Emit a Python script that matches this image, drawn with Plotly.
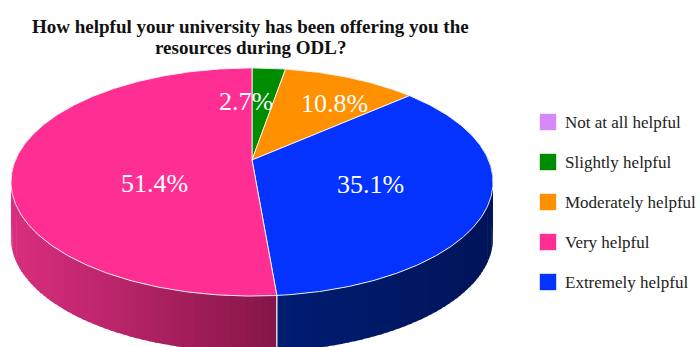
import math
import plotly.graph_objects as go

# Survey answers (37 respondents)
categories = ["Not at all helpful", "Slightly helpful", "Moderately helpful",
              "Very helpful", "Extremely helpful"]
counts = [0, 1, 4, 19, 13]
colors = ["#d68af8", "#008c00", "#ff9000", "#ff2e92", "#0433ff"]
# clockwise order of the slices, starting at 12 o'clock
slice_order = ["Not at all helpful", "Slightly helpful", "Moderately helpful",
               "Extremely helpful", "Very helpful"]

title_lines = ["How helpful your university has been offering you the",
               "resources during ODL?"]

# ---- pie geometry (pixel space, y grows downward) ----
W, H = 700, 347
CX, CY = 252, 160          # centre of the top face
RX, RY = 236.5, 109.8      # radii before perspective
K = 0.193                  # perspective strength (far edge shrinks)
DEPTH = 56                 # thickness of the pie wall
FONT = "Liberation Serif"

# shading of the wall: colour at left end -> colour at right end
side_ramps = {
    "Very helpful": ((218, 46, 128), (132, 22, 70)),
    "Extremely helpful": ((0, 30, 118), (0, 20, 88)),
    "Moderately helpful": ((200, 110, 0), (150, 80, 0)),
    "Slightly helpful": ((0, 110, 0), (0, 80, 0)),
    "Not at all helpful": ((170, 110, 200), (130, 80, 160)),
}
# label anchor points on the top face
label_pos = {
    "Slightly helpful": (246, 101),
    "Moderately helpful": (334, 103),
    "Very helpful": (154, 183),
    "Extremely helpful": (370, 184),
}


def proj(theta, r=1.0, dy=0.0):
    t = math.radians(theta)
    u, v = r * math.sin(t), r * math.cos(t)
    s = 1 + K * v
    return CX + RX * u / s, CY - RY * v / s + dy


def arc(t0, t1, dy=0.0):
    n = max(2, int(abs(t1 - t0) / 0.5) + 1)
    pts = [proj(t0 + (t1 - t0) * i / (n - 1), 1.0, dy) for i in range(n)]
    return pts


total = sum(counts)
col = dict(zip(categories, colors))
cnt = dict(zip(categories, counts))

spans = []
acc = 0.0
for name in slice_order:
    sweep = 360.0 * cnt[name] / total
    spans.append((name, acc, acc + sweep))
    acc += sweep

fig = go.Figure()

# ---- wall (only the front half is ever visible) ----
x_left, x_right = CX - RX * 1.02, CX + RX * 1.02
for name, t0, t1 in spans:
    if t1 - t0 <= 0:
        continue
    c0, c1 = side_ramps[name]
    n = max(1, int((t1 - t0) / 1.5) + 1)
    for i in range(n):
        a = t0 + (t1 - t0) * i / n
        b = t0 + (t1 - t0) * (i + 1) / n
        if math.cos(math.radians((a + b) / 2)) > 0.1:
            continue
        # overlap each strip slightly with the next one to hide seams
        b_ext = min(t1, b + 0.6)
        top = arc(a, b_ext)
        bot = arc(a, b_ext, DEPTH)[::-1]
        poly = top + bot + [top[0]]
        xm = sum(p[0] for p in top) / len(top)
        if name == "Extremely helpful":
            f = (xm - CX) / (x_right - CX)
        elif name == "Very helpful":
            f = (xm - x_left) / (CX + 25 - x_left)
        else:
            f = (xm - x_left) / (x_right - x_left)
        f = min(1, max(0, f))
        rgb = tuple(int(round(c0[j] + (c1[j] - c0[j]) * f)) for j in range(3))
        c = "rgb(%d,%d,%d)" % rgb
        fig.add_trace(go.Scatter(
            x=[p[0] for p in poly], y=[p[1] for p in poly],
            mode="lines", fill="toself", fillcolor=c,
            line=dict(width=0), hoverinfo="skip", showlegend=False))

# light seam where two walls meet
for name, t0, t1 in spans:
    if t1 - t0 <= 0:
        continue
    for t in (t0, t1):
        if math.cos(math.radians(t)) < -K:
            p = proj(t)
            fig.add_trace(go.Scatter(
                x=[p[0], p[0]], y=[p[1], p[1] + DEPTH], mode="lines",
                line=dict(color="rgba(235,235,235,0.9)", width=1),
                hoverinfo="skip", showlegend=False))

# ---- top face wedges ----
for name, t0, t1 in spans:
    if t1 - t0 <= 0:
        continue
    pts = [(CX, CY)] + arc(t0, t1) + [(CX, CY)]
    fig.add_trace(go.Scatter(
        x=[p[0] for p in pts], y=[p[1] for p in pts],
        mode="lines", fill="toself", fillcolor=col[name],
        line=dict(color="rgba(240,240,240,0.95)", width=1),
        hoverinfo="skip", showlegend=False))

# ---- percentage labels ----
for name in slice_order:
    if cnt[name] == 0:
        continue
    x, y = label_pos[name]
    fig.add_annotation(x=x, y=y, text="%.1f%%" % (100.0 * cnt[name] / total),
                       showarrow=False, xanchor="center", yanchor="middle",
                       font=dict(family=FONT, size=26, color="white"))

# ---- legend ----
LEG_X, LEG_Y0, LEG_DY = 548, 122, 40
fig.add_trace(go.Scatter(
    x=[LEG_X] * len(categories),
    y=[LEG_Y0 + i * LEG_DY for i in range(len(categories))],
    mode="markers",
    marker=dict(symbol="square", size=17, color=colors,
                line=dict(color="rgba(255,255,255,0.6)", width=1)),
    hoverinfo="skip", showlegend=False))
for i, name in enumerate(categories):
    fig.add_annotation(x=LEG_X + 15, y=LEG_Y0 + i * LEG_DY, text=name,
                       showarrow=False, xanchor="left", yanchor="middle",
                       font=dict(family=FONT, size=17, color="#222222"))

# ---- title ----
for i, line in enumerate(title_lines):
    fig.add_annotation(x=250, y=26 + i * 21, text="<b>%s</b>" % line,
                       showarrow=False, xanchor="center", yanchor="middle",
                       font=dict(family=FONT, size=19, color="#111111"))

fig.update_layout(
    width=W, height=H, margin=dict(l=0, r=0, t=0, b=0),
    paper_bgcolor="white", plot_bgcolor="white",
    xaxis=dict(range=[0, W], visible=False, fixedrange=True),
    yaxis=dict(range=[H, 0], visible=False, fixedrange=True),
    showlegend=False,
)

fig.write_html("out.html")
